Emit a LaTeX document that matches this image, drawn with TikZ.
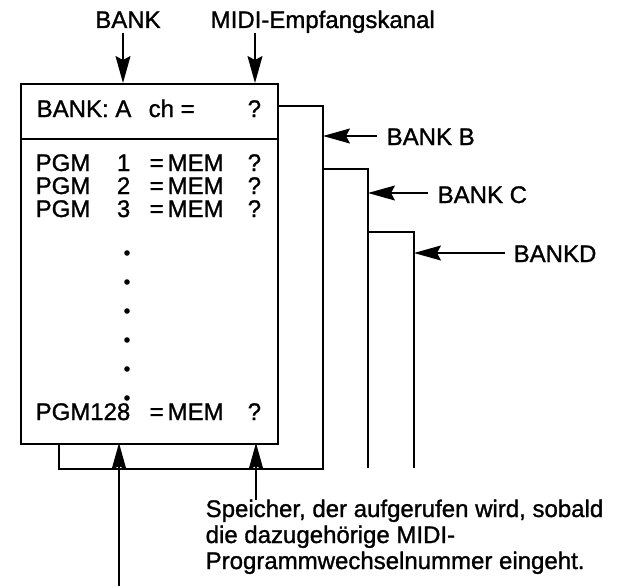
\documentclass[tikz,border=0pt]{standalone}
\usepackage{fontspec}
\setmainfont[FakeBold=1.2]{Liberation Sans}
\usetikzlibrary{arrows.meta}
\begin{document}
\begin{tikzpicture}[x=1pt,y=-1pt,line width=1.4pt,
  txt/.style={font=\fontsize{24}{27}\selectfont,inner sep=0pt,anchor=base west},
  arr/.style={-{Stealth[length=27pt,width=15pt,inset=4pt]}},
  frameline/.style={line width=1.4pt}]
\useasboundingbox (0,0) rectangle (617,586);
% main box
\node[draw,line width=1.7pt,minimum width=257pt,minimum height=360pt,anchor=north west,inner sep=0pt] (box) at (20,83) {};
\coordinate (hl) at (20,139);
\coordinate (hr) at (277,139);
\draw[line width=1.7pt] (hl) -- (hr);
% stacked frames
\draw[frameline] (277,106) -- (323,106) -- (323,469) -- (59,469) -- (59,443);
\draw[frameline] (323,169) -- (368,169) -- (368,468);
\draw[frameline] (368,232) -- (414,232) -- (414,468);
% top labels
\node[txt,anchor=base] (bank) at (128,28) {BANK};
\node[txt] (midi) at (210,28) {MIDI-Empfangskanal};
\coordinate (bankS) at (123,33);
\coordinate (bankT) at (123,83);
\coordinate (midiS) at (255,33);
\coordinate (midiT) at (255,83);
\draw[arr] (bankS) -- (bankT);
\draw[arr] (midiS) -- (midiT);
% header
\node[txt] (h1) at (36,117) {BANK: A};
\node[txt] (h2) at (148,117) {ch =};
\node[txt] (h3) at (247,117) {?};
% rows
\foreach \n/\b/\num in {1/171/1,2/194/2,3/217/3,4/420/128}{
  \node[txt] (p\n) at (35,\b) {PGM};
  \node[txt,anchor=base east] (n\n) at (131,\b) {\num};
  \node[txt] (e\n) at (149,\b) {=};
  \node[txt] (m\n) at (167,\b) {MEM};
  \node[txt] (q\n) at (247,\b) {?};
}
\foreach \y in {253,282,311,340,369,398}{
  \fill (127,\y) circle (2.8pt);
}
% bank arrows
\node[txt,anchor=base west] (lB) at (386,145) {BANK B};
\node[txt,anchor=base west] (lC) at (437,203) {BANK C};
\node[txt,anchor=base west] (lD) at (513,262) {BANKD};
\coordinate (bS) at (377,136); \coordinate (bT) at (323,136);
\coordinate (cS) at (428,193); \coordinate (cT) at (368,193);
\coordinate (dS) at (505,253); \coordinate (dT) at (414,253);
\draw[arr] (bS) -- (bT);
\draw[arr] (cS) -- (cT);
\draw[arr] (dS) -- (dT);
% bottom arrows
\coordinate (aS) at (119,586); \coordinate (aT) at (119,443);
\coordinate (sS) at (256,500); \coordinate (sT) at (256,443);
\draw[arr] (aS) -- (aT);
\draw[arr] (sS) -- (sT);
\node[txt] (t1) at (205,517) {Speicher, der aufgerufen wird, sobald};
\node[txt] (t2) at (205,543) {die dazugehörige MIDI-};
\node[txt] (t3) at (205,569) {Programmwechselnummer eingeht.};
\end{tikzpicture}
\end{document}
